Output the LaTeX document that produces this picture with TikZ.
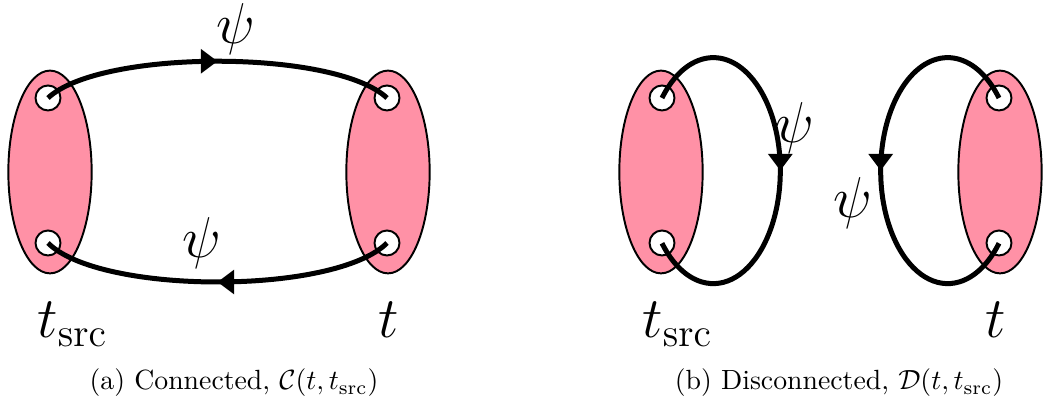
\documentclass[tikz,border=0pt]{standalone}
\usepackage{amsmath}
\usepackage{xcolor}
\usepackage{tikz}
\usetikzlibrary{shapes.geometric, arrows.meta, decorations.markings}
\definecolor{blobpink}{HTML}{FF91A6}

\begin{document}
\begin{tikzpicture}[x=0.36pt, y=0.36pt,
          blob/.style={ellipse, draw=black, fill=blobpink, line width=0.7pt,
                       minimum width=30pt, minimum height=73pt, inner sep=0pt},
          vtx/.style={circle, draw=black, fill=white, line width=0.7pt,
                      minimum size=9pt, inner sep=0pt},
          prop/.style={line width=1.8pt, postaction={decorate},
                       decoration={markings, mark=at position 0.5 with
                         {\arrow{Triangle[length=6pt, width=8.5pt]}}}},
          tlbl/.style={font=\huge, anchor=base west, inner sep=0pt},
          subcap/.style={anchor=base}
        ]
        \useasboundingbox (0,0) rectangle (1043,406);
        %% (a) Connected
        \node[blob] (srcA) at (50,234) {};
        \node[blob] (snkA) at (388,234) {};
        \node[vtx] (a1) at (48,308) {};
        \node[vtx] (a2) at (48,163) {};
        \node[vtx] (a3) at (387,308) {};
        \node[vtx] (a4) at (387,163) {};
        \draw[prop] (a1.center) .. controls (100,357) and (335,357) .. (a3.center);
        \draw[prop] (a4.center) .. controls (335,111) and (100,111) .. (a2.center);
        \node[font=\huge] (psiA1) at (236,377) {$\psi$};
        \node[font=\huge] (psiA2) at (202,163) {$\psi$};
        \node[tlbl] (tsrcA) at (37,68) {$t_{\mathrm{src}}$};
        \node[tlbl] (tA) at (378,68) {$t$};
        \node[subcap] (capA) at (234,16) {(a) Connected, $\mathcal{C}(t,t_{\mathrm{src}})$};
        %% (b) Disconnected
        \node[blob] (srcB) at (661,234) {};
        \node[blob] (snkB) at (1000,234) {};
        \node[vtx] (b1) at (662,308) {};
        \node[vtx] (b2) at (662,163) {};
        \node[vtx] (b3) at (999,308) {};
        \node[vtx] (b4) at (999,163) {};
        \draw[prop] (b1.center) arc[start angle=140, end angle=-140,
                                    x radius=67, y radius=113];
        \draw[prop] (b3.center) arc[start angle=40, end angle=320,
                                    x radius=67, y radius=113];
        \node[font=\huge] (psiB1) at (795,278) {$\psi$};
        \node[font=\huge] (psiB2) at (853,203) {$\psi$};
        \node[tlbl] (tsrcB) at (642,68) {$t_{\mathrm{src}}$};
        \node[tlbl] (tB) at (985,68) {$t$};
        \node[subcap] (capB) at (839,16) {(b) Disconnected, $\mathcal{D}(t,t_{\mathrm{src}})$};
      \end{tikzpicture}
\end{document}
